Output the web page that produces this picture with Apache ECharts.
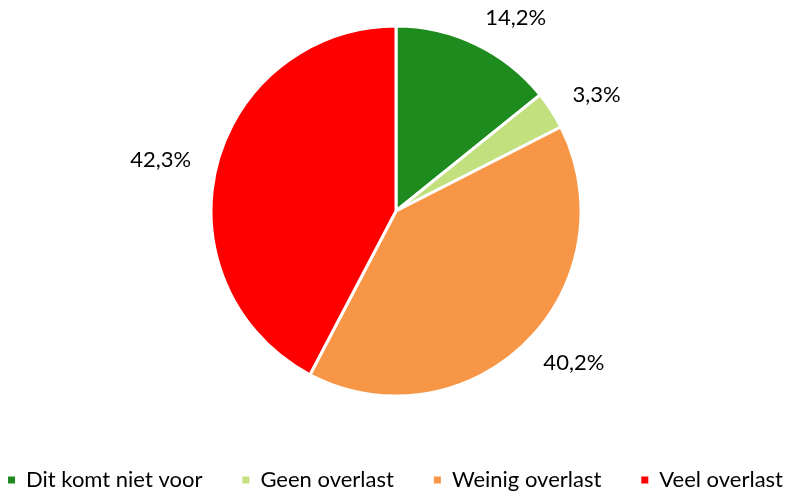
<!DOCTYPE html>
<html>
<head>
<meta charset="utf-8">
<script src="https://cdn.jsdelivr.net/npm/echarts@6/dist/echarts.min.js"></script>
<style>
    html, body { margin: 0; padding: 0; background: #fff; }
    #chart { width: 789px; height: 492px; }
</style>
</head>
<body>
<div id="chart"></div>
<script>
// categories & values (percentages)
var categories = ['Dit komt niet voor', 'Geen overlast', 'Weinig overlast', 'Veel overlast'];
var values = [14.2, 3.3, 40.2, 42.3];
var colors = ['#1e8b1e', '#c3e07f', '#f79646', '#ff0000'];

var chartDom = document.getElementById('chart');
var myChart = echarts.init(chartDom);
var option;

option = {
    animation: false,
    color: colors,
    textStyle: {
        fontFamily: 'Lato, "Open Sans", sans-serif'
    },
    legend: {
        bottom: -4,
        left: 'center',
        width: 789,
        padding: [5, 0, 5, 6],
        itemWidth: 9,
        itemHeight: 9,
        itemGap: 38,
        icon: 'rect',
        textStyle: {
            fontSize: 22,
            color: '#000',
            padding: [0, 0, 0, 5]
        },
        data: categories
    },
    series: [{
        type: 'pie',
        center: [396, 211],
        radius: 185,
        startAngle: 90,
        clockwise: true,
        itemStyle: {
            borderColor: '#fff',
            borderWidth: 3
        },
        label: {
            show: true,
            position: 'outside',
            fontSize: 22,
            color: '#000',
            distanceToLabelLine: -3,
            formatter: function (p) {
                return p.value.toFixed(1).replace('.', ',') + '%';
            }
        },
        labelLine: {
            show: false,
            length: 29,
            length2: 0
        },
        data: categories.map(function (c, i) {
            return { name: c, value: values[i] };
        })
    }]
};
option && myChart.setOption(option);
</script>
</body>
</html>
